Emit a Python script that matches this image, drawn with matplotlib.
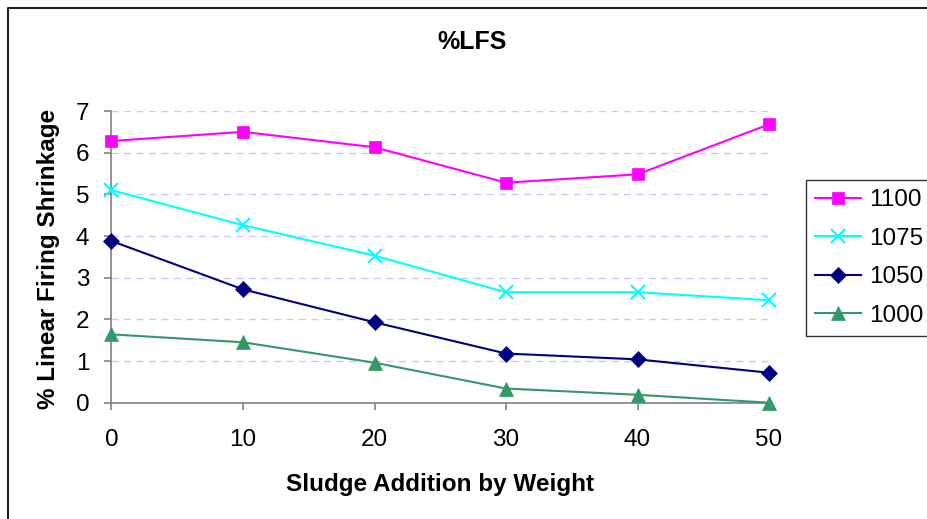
import matplotlib
matplotlib.use("Agg")
import matplotlib.pyplot as plt
from matplotlib.lines import Line2D

plt.rcParams.update({
    "font.family": ["Liberation Sans", "DejaVu Sans"],
    "font.size": 17.5,
})

sludge = [0, 10, 20, 30, 40, 50]
lfs_1100 = [6.28, 6.50, 6.13, 5.28, 5.48, 6.68]
lfs_1075 = [5.10, 4.26, 3.53, 2.65, 2.65, 2.46]
lfs_1050 = [3.88, 2.72, 1.93, 1.18, 1.04, 0.72]
lfs_1000 = [1.64, 1.45, 0.96, 0.34, 0.19, 0.0]
labels = ["1100", "1075", "1050", "1000"]

W, H = 928, 519
fig = plt.figure(figsize=(W / 100, H / 100), dpi=100)
ax = fig.add_axes([111.5 / W, 1 - 402.7 / H, (769 - 111.5) / W, (402.7 - 111) / H])

# series: (values, colour, marker, size)
series = [
    (lfs_1100, "#ff00ff", "s", 8.5),
    (lfs_1075, "#00ffff", "x", 9.5),
    (lfs_1050, "#000080", "D", 8),
    (lfs_1000, "#339966", "^", 9.5),
]
for (vals, col, mk, ms), lab in zip(series, labels):
    ax.plot(sludge, vals, color=col, marker=mk, markersize=ms, lw=1.5,
            markeredgecolor=col, markeredgewidth=1.5 if mk == "x" else 0.5,
            label=lab, clip_on=False, zorder=3)

ax.set_xlim(0, 50)
ax.set_ylim(0, 7)
ax.set_xticks(sludge)
ax.set_yticks(range(8))
ax.grid(True, axis="y", color="#c8c8ff", linestyle=(0, (5, 4)), lw=1)
for s in ["top", "right"]:
    ax.spines[s].set_visible(False)
for s in ["left", "bottom"]:
    ax.spines[s].set_color("#808080")
    ax.spines[s].set_linewidth(1.2)
ax.tick_params(direction="out", color="#808080", length=5, width=1.2, labelsize=17.5)
ax.tick_params(axis="x", pad=14)
ax.tick_params(axis="y", pad=11)

fig.text(472 / W, 1 - 42 / H, "%LFS", fontsize=18, fontweight="bold", ha="center", va="center")
fig.text(440 / W, 1 - 485 / H, "Sludge Addition by Weight", fontsize=17.5, fontweight="bold",
         ha="center", va="center")
fig.text(49 / W, 1 - 259 / H, "% Linear Firing Shrinkage", fontsize=17.5, fontweight="bold",
         ha="center", va="center", rotation=90)

leg = ax.legend(loc="upper left", bbox_to_anchor=(806 / W, 1 - 180 / H),
                bbox_transform=fig.transFigure, frameon=True, fancybox=False,
                edgecolor="black", fontsize=17.5, handlelength=1.9,
                borderpad=0.38, labelspacing=0.68, handletextpad=0.3, borderaxespad=0)
leg.get_frame().set_linewidth(1.0)

# chart-area border (only left and top edges fall inside the picture)
fig.lines.append(Line2D([7.5 / W, 7.5 / W, 1], [0, 1 - 7.5 / H, 1 - 7.5 / H],
                        transform=fig.transFigure, color="#202020", lw=1.5))

fig.savefig("out.png", dpi=100)
